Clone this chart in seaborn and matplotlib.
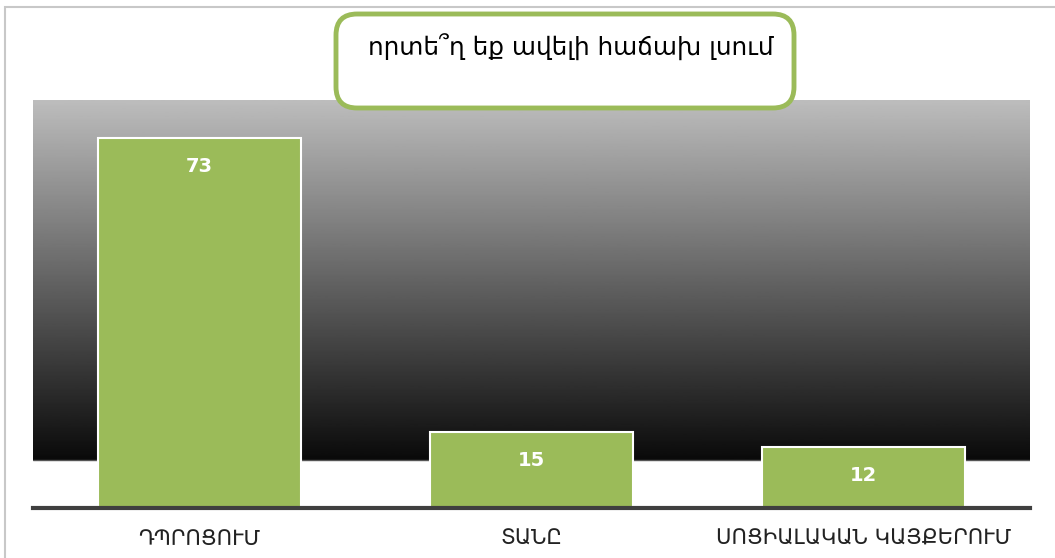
import numpy as np
import pandas as pd
import matplotlib
matplotlib.use("Agg")
import matplotlib.pyplot as plt
from matplotlib.patches import FancyBboxPatch, Rectangle
import seaborn as sns

# Data
categories = ["ԴՊՐՈՑՈՒՄ", "ՏԱՆԸ", "ՍՈՑԻԱԼԱԿԱՆ ԿԱՅՔԵՐՈՒՄ"]
values = [73, 15, 12]
title_text = "որտե՞ղ եք ավելի հաճախ լսում"

sns.set_style("white")
plt.rcParams['font.family'] = ['DejaVu Sans']

green = "#9BBB59"

fig = plt.figure(figsize=(10.55, 5.58), dpi=100)
ax = fig.add_axes([33 / 1055, 1 - 508 / 558, 997 / 1055, 408 / 558])

df = pd.DataFrame({"cat": categories, "val": values})
sns.barplot(data=df, x="cat", y="val", color=green, width=0.61,
            edgecolor="white", linewidth=1.5, saturation=1, ax=ax, zorder=3)

ax.set_xlim(-0.5, 2.5)
ax.set_ylim(0, 80.5)

# gradient background of plot area
grad = np.linspace(0.04, 0.74, 256).reshape(-1, 1)
ax.imshow(grad, cmap="gray", vmin=0, vmax=1, aspect="auto", origin="lower",
          extent=[-0.5, 2.5, 9.5, 80.5], zorder=0)
ax.axhline(9.5, color="#555555", lw=1, zorder=1)

for i, v in enumerate(values):
    ax.text(i, v - 5.6, str(v), ha="center", va="center", color="white",
            fontsize=14, fontweight="bold", zorder=4)

ax.set_xlabel("")
ax.set_ylabel("")
ax.set_yticks([])
ax.tick_params(axis="x", length=0, pad=15, labelsize=15.2, colors="#222222")
for s in ["top", "left", "right"]:
    ax.spines[s].set_visible(False)
ax.spines["bottom"].set_color("#3F3F3F")
ax.spines["bottom"].set_linewidth(3)
ax.spines["bottom"].set_zorder(5)

# outer frame
fig.patches.append(Rectangle((5 / 1055, -0.05), 1.1, 1 - 7 / 558 + 0.05,
                             transform=fig.transFigure, fill=False,
                             edgecolor="#C8C8C8", lw=1.5))

# title box
box = FancyBboxPatch((336 / 1055, 1 - 108 / 558), 458 / 1055, 94 / 558,
                     boxstyle="round,pad=0,rounding_size=0.02",
                     transform=fig.transFigure, facecolor="white",
                     edgecolor=green, lw=3.5, mutation_aspect=1055 / 558)
fig.patches.append(box)
fig.text(368 / 1055, 1 - 47 / 558, title_text, ha="left", va="center",
         fontsize=17.8, color="black")

fig.savefig("out.png", dpi=100)
